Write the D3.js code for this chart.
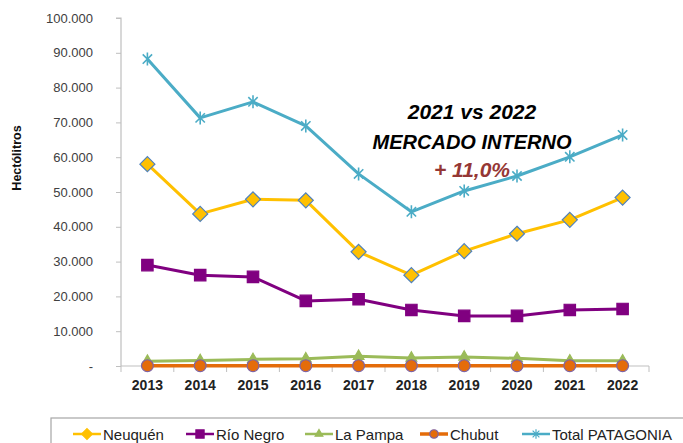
<!DOCTYPE html>
<html><head><meta charset="utf-8">
<script src="https://cdn.jsdelivr.net/npm/d3@7"></script>
<style>body{margin:0;background:#fff}svg{display:block}</style>
</head><body>
<svg id="c" width="683" height="443"></svg>
<script>
const years = ["2013","2014","2015","2016","2017","2018","2019","2020","2021","2022"];
const neuquen = [58000,43700,47900,47600,32800,26100,33000,38000,42000,48400];
const rioNegro = [29000,26100,25600,18700,19200,16100,14400,14400,16100,16400];
const laPampa = [1400,1600,1900,2100,2800,2300,2600,2200,1500,1500];
const chubut = [100,100,100,100,100,100,100,100,100,100];
const total = [88200,71300,75900,69000,55200,44300,50300,54600,60100,66400];
const yTicks = [0,10000,20000,30000,40000,50000,60000,70000,80000,90000,100000];
const seriesNames = ["Neuquén","Río Negro","La Pampa","Chubut","Total PATAGONIA"];

const series = [
  {name:seriesNames[0], values:neuquen, color:"#FFC000", marker:"diamond", mfill:"#FFC000", mstroke:"#4F81BD", size:150},
  {name:seriesNames[1], values:rioNegro, color:"#800080", marker:"square", mfill:"#800080", mstroke:"#800080", size:130},
  {name:seriesNames[2], values:laPampa, color:"#9BBB59", marker:"triangle", mfill:"#9BBB59", mstroke:"#9BBB59", size:50},
  {name:seriesNames[3], values:chubut, color:"#E46C0A", marker:"circle", mfill:"#E46C0A", mstroke:"#8064A2", size:110},
  {name:seriesNames[4], values:total, color:"#4BACC6", marker:"star", mfill:"none", mstroke:"#4BACC6", size:0}
];

const svg = d3.select("#c");
const pl=121, pr=649, pt=18, pb=366;
const x = d3.scaleBand().domain(years).range([pl,pr]);
const y = d3.scaleLinear().domain([0,100000]).range([pb,pt]);
const axisColor = "#BFBFBF";
const fmt = v => v===0 ? "-" : d3.format(",")(v).replace(/,/g,".");

// y axis
const ya = svg.append("g").attr("transform",`translate(${pl},0)`)
  .call(d3.axisLeft(y).tickValues(yTicks).tickSize(5).tickFormat(fmt).tickPadding(23));
ya.select(".domain").attr("stroke",axisColor).attr("stroke-width",1.2).attr("d",`M-5,${pt}H0V${pb}`);
ya.selectAll(".tick line").attr("stroke",axisColor);
ya.selectAll(".tick text").attr("font-family","Liberation Sans, Arial, sans-serif").attr("font-size",13).attr("fill","#404040");

// x axis
const xa = svg.append("g").attr("transform",`translate(0,${pb})`)
  .call(d3.axisBottom(x).tickSize(0).tickPadding(14));
xa.select(".domain").attr("stroke",axisColor).attr("stroke-width",1.2).attr("d",`M${pl},0H${pr}`);
xa.selectAll(".tick text").attr("font-family","Liberation Sans, Arial, sans-serif").attr("font-size",14).attr("font-weight","bold").attr("fill","#222");
const bounds = years.map(d=>x(d)).concat([pr]);
xa.selectAll(".xb").data(bounds).enter().append("line").attr("class","xb")
  .attr("x1",d=>d).attr("x2",d=>d).attr("y1",0).attr("y2",6).attr("stroke",axisColor);

// y title
svg.append("text").attr("transform","translate(21,158) rotate(-90)").attr("text-anchor","middle")
  .attr("font-family","Liberation Sans, Arial, sans-serif").attr("font-size",12.5).attr("font-weight","bold").attr("fill","#111").text("Hectólitros");

function starPath(r){
  const d = r*0.72;
  return `M0,${-r}L0,${r}M${-d},${-d}L${d},${d}M${-d},${d}L${d},${-d}`;
}
function diamondPath(r){return `M0,${-r}L${r},0L0,${r}L${-r},0Z`;}
function markerPath(s, k){
  k = k||1;
  if(s.marker==="diamond") return diamondPath(7.5*k);
  if(s.marker==="square") return d3.symbol(d3.symbolSquare, s.size*k*k)();
  if(s.marker==="triangle") return d3.symbol(d3.symbolTriangle, s.size*k*k)();
  if(s.marker==="circle") return d3.symbol(d3.symbolCircle, s.size*k*k)();
  return starPath(6.5*k);
}

const line = d3.line().x((d,i)=>x(years[i])+x.bandwidth()/2).y(d=>y(d));
series.forEach(s=>{
  const g = svg.append("g");
  g.append("path").attr("d",line(s.values)).attr("fill","none").attr("stroke",s.color)
    .attr("stroke-width", s.marker==="circle"?3.5:3).attr("stroke-linejoin","round");
  g.selectAll("path.m").data(s.values).enter().append("path").attr("class","m")
    .attr("transform",(d,i)=>`translate(${x(years[i])+x.bandwidth()/2},${y(d)})`)
    .attr("d", markerPath(s))
    .attr("fill",s.mfill).attr("stroke",s.mstroke).attr("stroke-width", s.marker==="star"?1.6:1.2);
});

// annotation
const ann = svg.append("g").attr("font-family","Liberation Sans, Arial, sans-serif").attr("font-style","italic").attr("font-weight","bold").attr("text-anchor","middle");
ann.append("text").attr("x",472).attr("y",119).attr("font-size",21).attr("fill","#000").text("2021 vs 2022");
ann.append("text").attr("x",472).attr("y",149).attr("font-size",20).attr("fill","#000").text("MERCADO INTERNO");
ann.append("text").attr("x",472).attr("y",177).attr("font-size",21).attr("fill","#953735").text("+ 11,0%");

// legend
const lg = svg.append("g");
lg.append("rect").attr("x",51).attr("y",418).attr("width",700).attr("height",40).attr("fill","#fff").attr("stroke","#A6A6A6").attr("stroke-width",1.2);
const lx = [73,186,305,420,522];
series.forEach((s,i)=>{
  const g = lg.append("g").attr("transform",`translate(${lx[i]},434)`);
  g.append("line").attr("x1",0).attr("x2",28).attr("stroke",s.color).attr("stroke-width",s.marker==="circle"?3.5:2.5);
  g.append("path").attr("transform","translate(14,0)")
    .attr("d", markerPath(s,0.72))
    .attr("fill",s.mfill).attr("stroke",s.marker==="diamond"?s.mfill:s.mstroke).attr("stroke-width",1.2);
  g.append("text").attr("x",30).attr("y",5.5).attr("font-family","Liberation Sans, Arial, sans-serif").attr("font-size",15).attr("fill","#222").text(s.name);
});
</script>
</body></html>
